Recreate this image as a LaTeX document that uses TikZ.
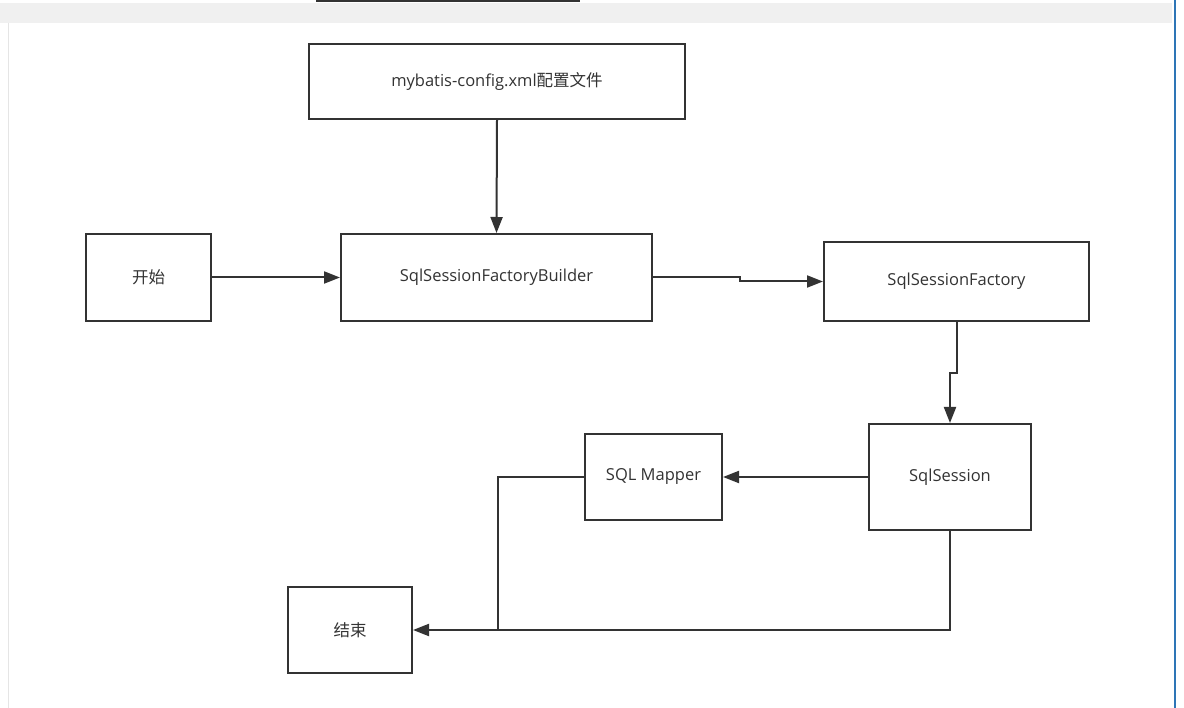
\documentclass[tikz,border=0pt]{standalone}
\usepackage{fontspec}
\setmainfont{Open Sans}
\newfontfamily\cjk{Noto Sans CJK SC}
\usetikzlibrary{arrows.meta}
\usetikzlibrary{positioning}

\definecolor{linegray}{HTML}{333333}
\definecolor{bandgray}{HTML}{F0F0F0}
\definecolor{edgeblue}{HTML}{2E75B6}

\begin{document}
\begin{tikzpicture}[
    x=1pt, y=-1pt,
    line width=2pt,
    font=\fontsize{16.5}{20}\selectfont
]
\tikzset{
    stepbox/.style = {rectangle, draw=linegray, align=center, text=linegray, inner sep=0pt},
    edgen/.style = {-, draw=linegray, line join=miter},
    edger/.style = {-{Triangle[length=16pt,width=12pt]}, draw=linegray, line join=miter}
}
% window chrome
\fill[white] (0,0) rectangle (1184,708);
\useasboundingbox (0,0) rectangle (1184,708);
\fill[bandgray] (0,3) rectangle (1172,23);
\draw[linegray, line width=2pt] (316,1) -- (580,1);
\draw[gray!20, line width=1pt] (8,23) -- (8,708);
\draw[edgeblue, line width=1.5pt] (1175,0) -- (1175,708);
% boxes
\node[stepbox, minimum width=376pt, minimum height=75pt] at (497,81.5) (config) {mybatis-config.xml{\cjk 配置文件}};
\node[stepbox, minimum width=125pt, minimum height=87pt] at (148.5,277.5) (start) {\cjk 开始};
\node[stepbox, minimum width=311pt, minimum height=87pt] at (496.5,277.5) (builder) {SqlSessionFactoryBuilder};
\node[stepbox, minimum width=265pt, minimum height=79pt] at (956.5,281.5) (factory) {SqlSessionFactory};
\node[stepbox, minimum width=162pt, minimum height=106pt] at (950,477) (session) {SqlSession};
\node[stepbox, minimum width=137pt, minimum height=86pt] at (653.5,477) (mapper) {SQL Mapper};
\node[stepbox, minimum width=124pt, minimum height=86pt] at (350,630) (end) {\cjk 结束};
\coordinate (join) at (498,630);
% connectors
\draw[edger] (config.south) -- (builder.north);
\draw[edger] (start.east) -- (builder.west);
\draw[edger] (builder.east) -- ++(87,0) |- (factory.west);
\draw[edger] (factory.south) -- ++(0,51) -| (session.north);
\draw[edger] (session.west) -- (mapper.east);
\draw[edgen] (mapper.west) -| (join);
\draw[edger] (session.south) |- (end.east);
\end{tikzpicture}
\end{document}
